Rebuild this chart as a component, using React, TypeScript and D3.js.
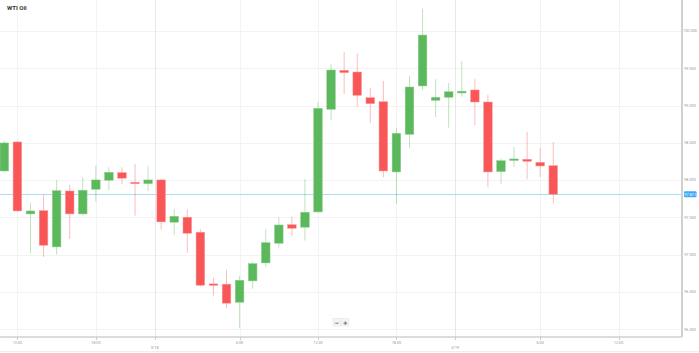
import React, { useEffect, useRef } from 'react';
import * as d3 from 'd3';

// hourly candles
const opens = [98.123, 98.512, 97.547, 97.591, 97.105, 97.855, 97.547, 97.878, 97.999, 98.101, 97.972, 97.953, 98.003, 97.436, 97.503, 97.302, 96.609, 96.605, 96.363, 96.649, 96.89, 97.154, 97.403, 97.369, 97.574, 98.95, 99.473, 99.45, 99.106, 99.052, 98.11, 98.615, 99.263, 99.071, 99.111, 99.169, 99.209, 99.048, 98.114, 98.271, 98.28, 98.24, 98.194];
const highs = [98.53, 98.525, 97.698, 97.802, 98.003, 97.936, 98.039, 98.194, 98.173, 98.173, 98.217, 98.194, 98.016, 97.614, 97.61, 97.342, 96.689, 96.796, 96.716, 96.907, 97.342, 97.503, 97.511, 98.012, 99.048, 99.562, 99.718, 99.701, 99.24, 99.33, 98.7, 99.401, 100.299, 99.353, 99.303, 99.595, 99.353, 99.146, 98.294, 98.445, 98.65, 98.432, 98.512];
const lows = [98.11, 97.58, 97.02, 96.97, 97.001, 97.212, 97.529, 97.712, 97.865, 97.949, 97.524, 97.855, 97.336, 97.269, 97.028, 96.572, 96.452, 96.283, 96.015, 96.546, 96.837, 97.095, 97.252, 97.189, 97.556, 98.807, 99.155, 98.981, 98.763, 98.039, 97.681, 98.428, 99.209, 98.847, 98.704, 99.119, 98.74, 97.905, 97.953, 98.177, 98.012, 98.043, 97.69];
const closes = [98.499, 97.587, 97.587, 97.127, 97.859, 97.547, 97.865, 98.003, 98.106, 98.026, 97.956, 98.003, 97.44, 97.516, 97.288, 96.591, 96.602, 96.35, 96.658, 96.881, 97.162, 97.399, 97.355, 97.57, 98.964, 99.477, 99.441, 99.138, 99.025, 98.123, 98.629, 99.249, 99.946, 99.111, 99.186, 99.193, 99.048, 98.11, 98.261, 98.284, 98.253, 98.19, 97.811];

const yTicks = [96, 96.5, 97, 97.5, 98, 98.5, 99, 99.5, 100];
const hourTickIdx = [1, 7, 18, 24, 30, 41, 47];
const hourTickLabels = ['12:00', '18:00', '6:00', '12:00', '18:00', '6:00', '12:00'];
const dayTickIdx = [11.5, 34.5];
const dayTickLabels = ['3/18', '3/19'];

const GREEN = '#5cb85c';
const RED = '#f95757';

const App = () => {
  const svgRef = useRef<SVGSVGElement>(null);

  useEffect(() => {
    const width = 699;
    const height = 353;
    const plotRight = 682;
    const plotBottom = 337;

    const svg = d3.select(svgRef.current);
    svg.selectAll('*').remove();
    svg.attr('width', width).attr('height', height);

    const x = d3.scaleLinear().domain([-0.5, 51.85]).range([-2.2, plotRight]);
    const y = d3.scaleLinear().domain([96, 100]).range([329.3, 31]);
    const step = x(1) - x(0);
    const bodyW = step * 0.66;

    svg.append('rect').attr('width', width).attr('height', height).attr('fill', '#fff');

    // horizontal grid
    svg
      .selectAll('.hgrid')
      .data(yTicks)
      .enter()
      .append('line')
      .attr('x1', 0)
      .attr('x2', plotRight)
      .attr('y1', d => Math.round(y(d)) + 0.5)
      .attr('y2', d => Math.round(y(d)) + 0.5)
      .attr('stroke', '#f3f3f3');

    // vertical grid
    svg
      .selectAll('.vgrid')
      .data(hourTickIdx)
      .enter()
      .append('line')
      .attr('x1', d => Math.round(x(d)) + 0.5)
      .attr('x2', d => Math.round(x(d)) + 0.5)
      .attr('y1', 0)
      .attr('y2', plotBottom)
      .attr('stroke', '#f3f3f3');

    svg
      .selectAll('.dgrid')
      .data(dayTickIdx)
      .enter()
      .append('line')
      .attr('x1', d => Math.round(x(d)) + 0.5)
      .attr('x2', d => Math.round(x(d)) + 0.5)
      .attr('y1', 0)
      .attr('y2', plotBottom)
      .attr('stroke', '#e8e8e8');

    // current price line
    const last = closes[closes.length - 1];
    svg
      .append('line')
      .attr('x1', 0)
      .attr('x2', plotRight)
      .attr('y1', Math.round(y(last)) + 0.5)
      .attr('y2', Math.round(y(last)) + 0.5)
      .attr('stroke', '#a9dcf7');

    // candles
    const idx = d3.range(opens.length);
    const candles = svg.append('g');

    candles
      .selectAll('.wick')
      .data(idx)
      .enter()
      .append('line')
      .attr('x1', i => x(i))
      .attr('x2', i => x(i))
      .attr('y1', i => y(highs[i]))
      .attr('y2', i => y(lows[i]))
      .attr('stroke', i => (closes[i] >= opens[i] ? GREEN : RED))
      .attr('stroke-opacity', 0.4)
      .attr('stroke-width', 1);

    candles
      .selectAll('.body')
      .data(idx)
      .enter()
      .append('rect')
      .attr('x', i => x(i) - bodyW / 2)
      .attr('y', i => y(Math.max(opens[i], closes[i])))
      .attr('width', bodyW)
      .attr('height', i => Math.max(1.5, Math.abs(y(opens[i]) - y(closes[i]))))
      .attr('fill', i => (closes[i] >= opens[i] ? GREEN : RED))
      .attr('stroke', i => (closes[i] >= opens[i] ? '#8fd08f' : '#fb9a9a'))
      .attr('stroke-width', 0.5);

    // axes lines
    svg
      .append('line')
      .attr('x1', 0)
      .attr('x2', plotRight)
      .attr('y1', plotBottom)
      .attr('y2', plotBottom)
      .attr('stroke', '#d0d0d0')
      .attr('stroke-width', 1.5);

    svg
      .append('line')
      .attr('x1', plotRight)
      .attr('x2', plotRight)
      .attr('y1', 0)
      .attr('y2', plotBottom)
      .attr('stroke', '#d0d0d0')
      .attr('stroke-width', 2);

    // bottom border
    svg
      .append('line')
      .attr('x1', 0)
      .attr('x2', width)
      .attr('y1', 351.5)
      .attr('y2', 351.5)
      .attr('stroke', '#eeeeee');

    // y labels
    svg
      .selectAll('.ylab')
      .data(yTicks)
      .enter()
      .append('text')
      .attr('x', 690)
      .attr('y', d => y(d) + 1.3)
      .attr('text-anchor', 'middle')
      .style('font-family', 'Roboto, sans-serif')
      .style('font-size', '3.8px')
      .attr('fill', '#999')
      .text(d => d.toFixed(3));

    // price label
    const py = y(last);
    svg
      .append('rect')
      .attr('x', 684)
      .attr('y', py - 3)
      .attr('width', 12.5)
      .attr('height', 6)
      .attr('rx', 1)
      .attr('fill', '#3fa9f5');
    svg
      .append('text')
      .attr('x', 690.2)
      .attr('y', py + 1.3)
      .attr('text-anchor', 'middle')
      .style('font-family', 'Roboto, sans-serif')
      .style('font-size', '3.8px')
      .attr('fill', '#fff')
      .text(last.toFixed(3));

    // x ticks
    svg
      .selectAll('.xtick')
      .data(hourTickIdx.concat(dayTickIdx))
      .enter()
      .append('line')
      .attr('x1', d => Math.round(x(d)) + 0.5)
      .attr('x2', d => Math.round(x(d)) + 0.5)
      .attr('y1', plotBottom)
      .attr('y2', plotBottom + 3)
      .attr('stroke', '#ccc');

    svg
      .selectAll('.xlab')
      .data(hourTickIdx)
      .enter()
      .append('text')
      .attr('x', d => x(d))
      .attr('y', 344)
      .attr('text-anchor', 'middle')
      .style('font-family', 'Roboto, sans-serif')
      .style('font-size', '3.8px')
      .attr('fill', '#999')
      .text((_, i) => hourTickLabels[i]);

    svg
      .selectAll('.dlab')
      .data(dayTickIdx)
      .enter()
      .append('text')
      .attr('x', d => x(d))
      .attr('y', 348.5)
      .attr('text-anchor', 'middle')
      .style('font-family', 'Roboto, sans-serif')
      .style('font-size', '3.8px')
      .attr('fill', '#999')
      .text((_, i) => dayTickLabels[i]);

    // zoom buttons
    const btns = svg.append('g');
    [['−', 333], ['+', 341.5]].forEach(([label, bx]) => {
      btns
        .append('rect')
        .attr('x', bx as number)
        .attr('y', 318.5)
        .attr('width', 7.5)
        .attr('height', 7.5)
        .attr('fill', '#f4f4f4')
        .attr('stroke', '#e2e2e2')
        .attr('stroke-width', 0.5);
      btns
        .append('text')
        .attr('x', (bx as number) + 3.75)
        .attr('y', 324.6)
        .attr('text-anchor', 'middle')
        .style('font-family', 'DejaVu Sans, sans-serif')
        .style('font-size', '6px')
        .style('font-weight', 'bold')
        .attr('fill', '#555')
        .text(label as string);
    });

    // title
    svg
      .append('text')
      .attr('x', 7)
      .attr('y', 9.5)
      .style('font-family', 'Roboto, sans-serif')
      .style('font-size', '6px')
      .style('font-weight', 'bold')
      .attr('fill', '#333')
      .text('WTI Oil');
  }, []);

  return <svg ref={svgRef} style={{ position: 'absolute', left: 0, top: 0, display: 'block' }}></svg>;
};

export default App;
